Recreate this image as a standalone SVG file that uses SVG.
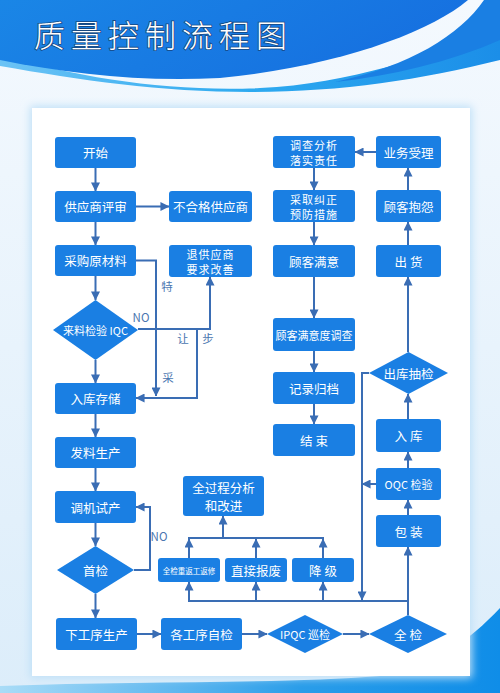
<svg xmlns="http://www.w3.org/2000/svg" width="500" height="693" viewBox="0 0 500 693">
<defs>
<style>
.n{fill:#1a7fe3;}
.t{fill:#fff;font-family:"Noto Sans CJK SC","Noto Sans",sans-serif;font-size:12.5px;text-anchor:middle;dominant-baseline:central;}
.s{font-size:11px;}
.xs{font-size:7.5px;}
.c{stroke:#3a6db4;stroke-width:2;fill:none;}
.a{marker-end:url(#ar);}
.l{fill:#4a76b0;font-family:"Noto Sans CJK SC","Noto Sans",sans-serif;font-size:11.5px;text-anchor:middle;dominant-baseline:central;}
</style>
<marker id="ar" viewBox="0 0 10 10" refX="9.5" refY="5" markerWidth="9" markerHeight="9" markerUnits="userSpaceOnUse" orient="auto">
<path d="M0,0 L10,5 L0,10 z" fill="#3a6db4"/>
</marker>
<linearGradient id="bg" x1="0" y1="0" x2="0" y2="1">
<stop offset="0" stop-color="#f4f9fe"/>
<stop offset="1" stop-color="#dcedfa"/>
</linearGradient>
<linearGradient id="hb" x1="0" y1="0" x2="1" y2="0.3">
<stop offset="0" stop-color="#1a86e6"/>
<stop offset="1" stop-color="#1670e0"/>
</linearGradient>
<linearGradient id="cy" x1="0" y1="0" x2="1" y2="0">
<stop offset="0" stop-color="#6cc3f5"/>
<stop offset="0.5" stop-color="#2eaaf0"/>
<stop offset="1" stop-color="#1b8ee8"/>
</linearGradient>
<linearGradient id="bw" x1="0" y1="0" x2="1" y2="0">
<stop offset="0" stop-color="#a9dcf7"/>
<stop offset="0.6" stop-color="#2a9de9"/>
<stop offset="1" stop-color="#0f8de8"/>
</linearGradient>
<filter id="sh" x="-10%" y="-10%" width="120%" height="120%">
<feGaussianBlur stdDeviation="4"/>
</filter>
</defs>
<rect width="500" height="693" fill="url(#bg)"/>
<!-- header -->
<path d="M0,55 C80,78 170,92 260,88 C350,84 430,55 500,30 V60 C420,80 340,92 250,92 C160,92 80,80 0,66 Z" fill="url(#cy)"/>
<path d="M0,0 H468 C430,32 340,66 220,78 C140,82 70,74 0,60 Z" fill="url(#hb)"/>
<path d="M484,0 H500 V40 C450,62 390,76 335,82 C410,66 460,35 484,0 Z" fill="#1a7fe3"/>
<text x="34" y="33" font-family="'Noto Sans CJK SC',sans-serif" font-size="31" font-weight="300" letter-spacing="6" fill="#ffffff" stroke="#17477f" stroke-width="1.6" paint-order="stroke" dominant-baseline="central">质量控制流程图</text>
<!-- bottom wave -->
<path d="M0,693 V686 C140,681 280,684 380,676 C430,670 470,640 500,608 V693 Z" fill="url(#bw)"/>
<!-- panel -->
<rect x="30" y="106" width="442" height="572" fill="#bfe0f7" filter="url(#sh)"/>
<rect x="32" y="108" width="438" height="568" fill="#ffffff"/>

<g id="connectors">
<path class="c a" d="M95.5,168 V191"/>
<path class="c a" d="M136,206.5 H169"/>
<path class="c a" d="M95.5,222 V245"/>
<path class="c a" d="M95.5,276 V300"/>
<path class="c a" d="M95.5,360 V383"/>
<path class="c a" d="M136,260.5 H156 V396"/>
<path class="c a" d="M138,329 H210 V277"/>
<path class="c a" d="M197,329 V398 H136"/>
<path class="c a" d="M95.5,414 V437"/>
<path class="c a" d="M95.5,468 V491"/>
<path class="c a" d="M95.5,523 V546"/>
<path class="c a" d="M95.5,594 V618"/>
<path class="c a" d="M134,570 H150 V507 H136"/>
<path class="c a" d="M137,634 H161"/>
<path class="c a" d="M242,634 H267"/>
<path class="c a" d="M343,634 H369"/>
<path class="c a" d="M408,615 V547"/>
<path class="c" d="M408,601 H188"/>
<path class="c a" d="M189,601 V582"/>
<path class="c a" d="M256,601 V582"/>
<path class="c a" d="M323,601 V582"/>
<path class="c a" d="M189,558 V539"/>
<path class="c a" d="M256,558 V539"/>
<path class="c a" d="M323,558 V539"/>
<path class="c" d="M188,538 H324"/>
<path class="c a" d="M223,538 V516"/>
<path class="c a" d="M369,373 H362 V600"/>
<path class="c a" d="M376,484 H362"/>
<path class="c a" d="M408,419 V394"/>
<path class="c a" d="M408,468 V452"/>
<path class="c a" d="M408,515 V500"/>
<path class="c a" d="M408,352 V277"/>
<path class="c a" d="M408,245 V222"/>
<path class="c a" d="M408,190 V168"/>
<path class="c a" d="M376,152 H355"/>
<path class="c a" d="M314,168 V190"/>
<path class="c a" d="M314,222 V245"/>
<path class="c a" d="M314,277 V318"/>
<path class="c a" d="M314,351 V372"/>
<path class="c a" d="M314,404 V424"/>
<text class="l" x="167" y="286">特</text>
<text class="l" x="168" y="377">采</text>
<text class="l" x="183" y="338">让</text>
<text class="l" x="208" y="338">步</text>
<text class="l" x="141" y="317" font-size="11">NO</text>
<text class="l" x="159" y="536" font-size="11">NO</text>
</g>

<g id="start"><rect class="n" x="55" y="137" width="81" height="31" rx="3"/><text class="t" x="95.5" y="152.5">开始</text></g>
<g id="supplier-review"><rect class="n" x="55" y="191" width="81" height="31" rx="3"/><text class="t" x="95.5" y="206.5">供应商评审</text></g>
<g id="purchase"><rect class="n" x="55" y="245" width="81" height="31" rx="3"/><text class="t" x="95.5" y="260.5">采购原材料</text></g>
<g id="iqc"><polygon class="n" points="53,330 95.5,300 138,330 95.5,360"/><text class="t s" x="95.5" y="330">来料检验 IQC</text></g>
<g id="storage"><rect class="n" x="55" y="383" width="81" height="31" rx="3"/><text class="t" x="95.5" y="398.5">入库存储</text></g>
<g id="issue"><rect class="n" x="55" y="437" width="81" height="31" rx="3"/><text class="t" x="95.5" y="452.5">发料生产</text></g>
<g id="trial"><rect class="n" x="55" y="491" width="81" height="32" rx="3"/><text class="t" x="95.5" y="507">调机试产</text></g>
<g id="first-check"><polygon class="n" points="57,570 95.5,546 134,570 95.5,594"/><text class="t" x="95.5" y="570">首检</text></g>
<g id="next-process"><rect class="n" x="56" y="618" width="81" height="32" rx="3"/><text class="t" x="96.5" y="634">下工序生产</text></g>

<g id="unqualified"><rect class="n" x="169" y="191" width="83" height="31" rx="3"/><text class="t" x="210.5" y="206.5">不合格供应商</text></g>
<g id="return-supplier"><rect class="n" x="169" y="245" width="83" height="32" rx="3"/><text class="t s" x="210.5" y="253.5" letter-spacing="1">退供应商</text><text class="t s" x="210.5" y="268.5" letter-spacing="1">要求改善</text></g>

<g id="analysis"><rect class="n" x="273" y="136" width="82" height="32" rx="3"/><text class="t s" x="314" y="144.5" letter-spacing="1">调查分析</text><text class="t s" x="314" y="159.5" letter-spacing="1">落实责任</text></g>
<g id="corrective"><rect class="n" x="273" y="190" width="82" height="32" rx="3"/><text class="t s" x="314" y="198.5" letter-spacing="1">采取纠正</text><text class="t s" x="314" y="213.5" letter-spacing="1">预防措施</text></g>
<g id="satisfaction"><rect class="n" x="273" y="245" width="82" height="32" rx="3"/><text class="t" x="314" y="261">顾客满意</text></g>
<g id="survey"><rect class="n" x="273" y="318" width="82" height="33" rx="3"/><text class="t s" x="314" y="334.5" font-size="10">顾客满意度调查</text></g>
<g id="archive"><rect class="n" x="273" y="372" width="82" height="32" rx="3"/><text class="t" x="314" y="388">记录归档</text></g>
<g id="end"><rect class="n" x="273" y="424" width="82" height="32" rx="3"/><text class="t" x="314" y="440">结 束</text></g>

<g id="business"><rect class="n" x="376" y="136" width="65" height="32" rx="3"/><text class="t" x="408.5" y="152">业务受理</text></g>
<g id="complaint"><rect class="n" x="376" y="190" width="65" height="32" rx="3"/><text class="t" x="408.5" y="206">顾客抱怨</text></g>
<g id="shipment"><rect class="n" x="376" y="245" width="65" height="32" rx="3"/><text class="t" x="408.5" y="261">出 货</text></g>
<g id="outbound-check"><polygon class="n" points="369,373 408.5,352 448,373 408.5,394"/><text class="t" x="408.5" y="373">出库抽检</text></g>
<g id="warehouse"><rect class="n" x="376" y="419" width="65" height="33" rx="3"/><text class="t" x="408.5" y="435.5">入 库</text></g>
<g id="oqc"><rect class="n" x="376" y="468" width="65" height="32" rx="3"/><text class="t s" x="408.5" y="484">OQC 检验</text></g>
<g id="packing"><rect class="n" x="376" y="515" width="65" height="32" rx="3"/><text class="t" x="408.5" y="531">包 装</text></g>
<g id="full-check"><polygon class="n" points="369,634 408,615 447,634 408,653"/><text class="t" x="408" y="634">全 检</text></g>
<g id="ipqc"><polygon class="n" points="267,634 305,615 343,634 305,653"/><text class="t s" x="305" y="634" font-size="10">IPQC 巡检</text></g>
<g id="self-check"><rect class="n" x="161" y="618" width="81" height="32" rx="3"/><text class="t" x="201.5" y="634">各工序自检</text></g>

<g id="process-analysis"><rect class="n" x="183" y="476" width="81" height="40" rx="3"/><text class="t" x="223.5" y="487" font-size="12">全过程分析</text><text class="t" x="223.5" y="505" font-size="12">和改进</text></g>
<g id="rework"><rect class="n" x="158" y="558" width="62" height="24" rx="3"/><text class="t xs" x="189" y="570">全检重返工返修</text></g>
<g id="scrap"><rect class="n" x="225" y="558" width="62" height="24" rx="3"/><text class="t" x="256" y="570">直接报废</text></g>
<g id="downgrade"><rect class="n" x="292" y="558" width="62" height="24" rx="3"/><text class="t" x="323" y="570">降 级</text></g>
</svg>
